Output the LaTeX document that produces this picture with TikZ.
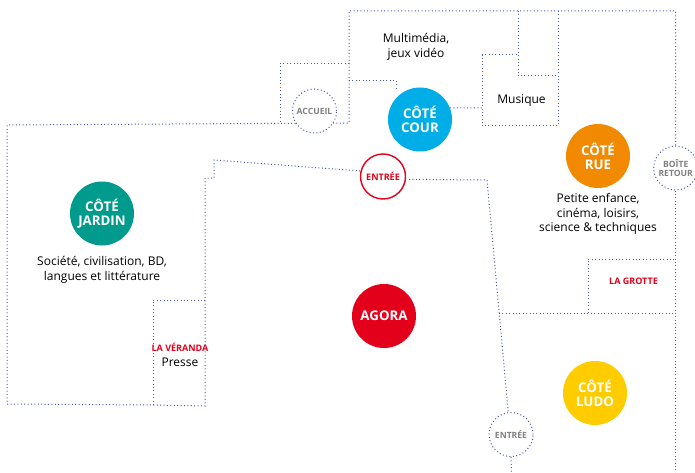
\documentclass[tikz,border=0pt]{standalone}
\usepackage{fontspec}
\setmainfont{Open Sans}
\definecolor{plan}{HTML}{4A58A8}
\definecolor{cjardin}{HTML}{009B8D}
\definecolor{ccour}{HTML}{00ADE6}
\definecolor{crue}{HTML}{F18A00}
\definecolor{cludo}{HTML}{FFCC00}
\definecolor{cagora}{HTML}{E2001A}
\definecolor{cgrey}{HTML}{808080}
\tikzset{
  wall/.style={draw=plan,line width=1pt,dash pattern=on 1pt off 2.4pt},
  zone/.style={circle,minimum size=64pt,inner sep=0pt,align=center,text=white,font=\fontsize{13.3}{14.2}\selectfont\bfseries},
  door/.style={circle,minimum size=44pt,inner sep=0pt,align=center,text=cgrey,font=\fontsize{8.6}{9.5}\selectfont\bfseries,wall},
  label/.style={align=center,text=black,font=\fontsize{12}{14.7}\selectfont},
  redlabel/.style={align=center,text=cagora,font=\fontsize{9}{10}\selectfont\bfseries}
}
\begin{document}
\begin{tikzpicture}[x=1pt,y=-1pt]
\useasboundingbox (0,0) rectangle (695,473);
% zones
\node[zone,fill=cjardin] (jardin) at (102,213.5) {CÔTÉ\\JARDIN};
\node[zone,fill=ccour] (cour) at (420,119.5) {CÔTÉ\\COUR};
\node[zone,fill=crue] (rue) at (598,156) {CÔTÉ\\RUE};
\node[zone,fill=cludo] (ludo) at (595,393) {CÔTÉ\\LUDO};
\node[zone,fill=cagora] (agora) at (384,316) {AGORA};
% doors
\node[door] (accueil) at (314.5,111) {ACCUEIL};
\node[door] (boite) at (675.7,168) {BOÎTE\\RETOUR};
\node[door] (entree2) at (511,434.5) {ENTRÉE};
\node[circle,minimum size=45pt,inner sep=0pt,draw=cagora,line width=1.4pt,text=cagora,font=\fontsize{9}{10}\selectfont\bfseries] (entree1) at (383,176.5) {ENTRÉE};
% labels
\node[label] (multi) at (416,46.5) {Multimédia,\\jeux vidéo};
\node[label] (musique) at (521.5,101) {Musique};
\node[label] (jtext) at (102,269.5) {Société, civilisation, BD,\\langues et littérature};
\node[label] (rtext) at (598,214) {Petite enfance,\\cinéma, loisirs,\\science \& techniques};
\node[label] (presse) at (180,362) {Presse};
\node[redlabel] (veranda) at (180,347.5) {LA VÉRANDA};
\node[redlabel] (grotte) at (633.5,281) {LA GROTTE};
% free points
\coordinate (tl) at (349,11);
\coordinate (tr) at (675.7,11);
\coordinate (br) at (675.7,473);
\coordinate (bent) at (511.5,473);
% walls
\draw[wall] (boite.north) -- (tr) -- (tl) -- (349,123) -- (accueil.-33);
\draw[wall] (boite.south) -- (br);
\draw[wall] (518,11) -- (518,76) -- (558,76);
\draw[wall] (558,11) -- (558,126) -- (482,126) -- (482,55) -- (518,55);
\draw[wall] (cour.21) -- (482,108);
\draw[wall] (349,80.5) -- (396,80.5) -- (396,91);
\draw[wall] (349,64) -- (280,64) -- (280,123);
\draw[wall] (accueil.-147) -- (7,125) -- (7,404) -- (153,405) -- (205,406) -- (205,178) -- (214,178) -- (214,160) -- (entree1.166);
\draw[wall] (153,405) -- (153,300) -- (205,300);
\draw[wall,shorten <=3pt] (entree1.-7) -- (487,180) -- (entree2.97);
\draw[wall] (entree2.south) -- (bent);
\draw[wall] (499,313) -- (675.7,313);
\draw[wall] (588,313) -- (588,259) -- (675.7,259);
\end{tikzpicture}
\end{document}
